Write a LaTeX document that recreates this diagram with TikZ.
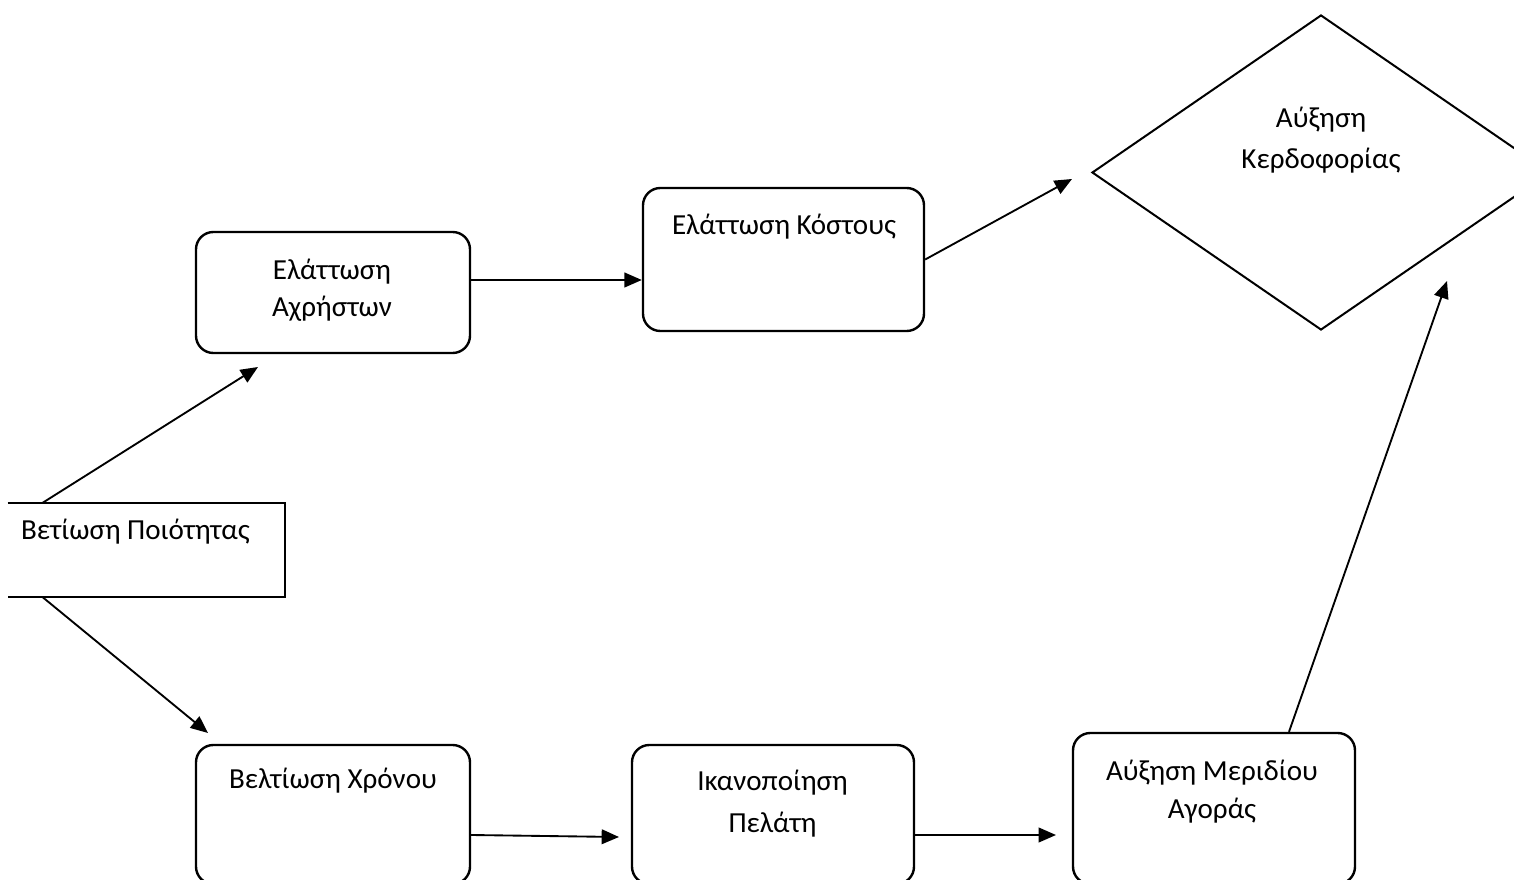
\documentclass[tikz,border=0pt]{standalone}
\usepackage{fontspec}
\setmainfont{Carlito}
\usetikzlibrary{shapes.geometric, calc, arrows.meta}

\begin{document}
\begin{tikzpicture}[x=0.75pt, y=-0.75pt,
	every node/.style={font=\fontsize{21.8}{28}\selectfont},
	box/.style={draw, line width=1.8pt, rounded corners=13pt, inner sep=0pt},
	arr/.style={line width=1.4pt, -{Triangle[length=13pt, width=11pt]}},
	lbl/.style={align=center, anchor=base}]

	\path[use as bounding box] (0,0) rectangle (1514,880);
	\clip (0,0) rectangle (1514,880);

	% boxes
	\node[inner sep=0pt, minimum width=207.75pt, minimum height=70.5pt] (poio) at (146.5,550) {};
	\draw[line width=1.8pt] (poio.north west) -| (poio.south east) -- (poio.south west);
	\node[box, minimum width=205.5pt, minimum height=90.75pt] (ahr) at (333,292.5) {};
	\node[box, minimum width=210.75pt, minimum height=107.25pt] (kost) at (783.5,259.5) {};
	\node[box, minimum width=205.5pt, minimum height=104.25pt] (xron) at (333,814.5) {};
	\node[box, minimum width=211.5pt, minimum height=104.25pt] (ikan) at (773,814.5) {};
	\node[box, minimum width=211.5pt, minimum height=113.25pt] (meri) at (1214,808.5) {};
	\node[draw, diamond, line width=1.5pt, inner sep=0pt, minimum width=343.5pt, minimum height=236.25pt] (kerd) at (1321,172.5) {};

	% texts (base = last line)
	\node[lbl] (tpoio) at (135.5,539) {Βετίωση Ποιότητας};
	\node[lbl] (tahr) at (332,317) {Ελάττωση\\Αχρήστων};
	\node[lbl] (tkost) at (784,235) {Ελάττωση Κόστους};
	\node[lbl] (txron) at (333,788) {Βελτίωση Χρόνου};
	\node[lbl] (tikan) at (772.5,832) {Ικανοποίηση\\[3pt]Πελάτη};
	\node[lbl] (tmeri) at (1212,818) {Αύξηση Μεριδίου\\Αγοράς};
	\node[lbl] (tkerd) at (1321,169) {Αύξηση\\[3pt]Κερδοφορίας};

	% free ends of the arrows
	\coordinate (t1) at (258,367);
	\coordinate (t2) at (208,733);
	\coordinate (t4) at (1072,179);
	\coordinate (t5) at (619,837);
	\coordinate (t6) at (1056,835);
	\coordinate (t7) at (1447,281);

	\draw[arr] ($(poio.north west)+(35,0)$) -- (t1);
	\draw[arr] ($(poio.south west)+(35,0)$) -- (t2);
	\draw[arr] (ahr.east |- 0,280) -- (kost.west |- 0,280);
	\draw[arr] (kost.east) -- (t4);
	\draw[arr] (xron.east |- 0,835) -- (t5);
	\draw[arr] (ikan.east |- 0,835) -- (t6);
	\draw[arr] ($(meri.north)+(75,0)$) -- (t7);
\end{tikzpicture}
\end{document}
